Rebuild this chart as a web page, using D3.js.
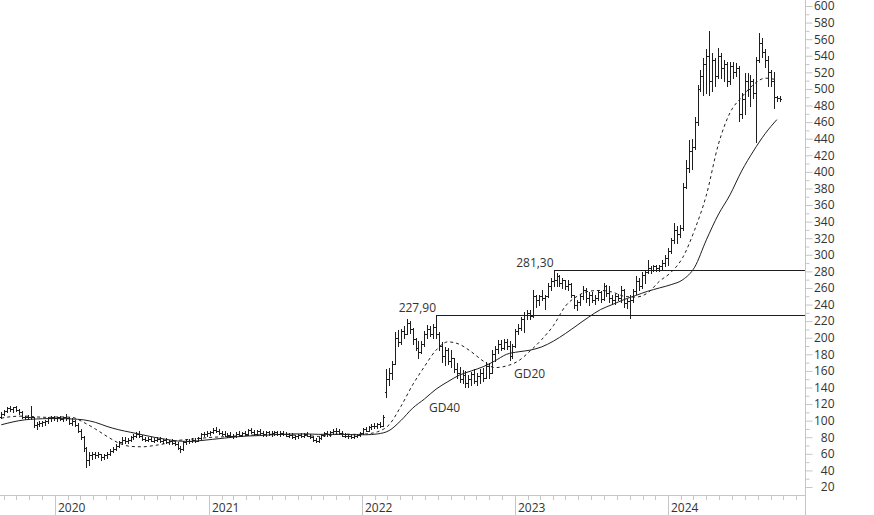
<!DOCTYPE html>
<html><head><meta charset="utf-8">
<script src="https://cdn.jsdelivr.net/npm/d3@7"></script>
<style>
html,body{margin:0;padding:0;background:#fff;}
svg{display:block;}
</style></head><body>
<svg id="chart" width="874" height="515"></svg>
<script>
// ---------- DATA (weekly OHLC, first week starts 2019-08-26) ----------
const firstWeek = "2019-08-26";
const opens = [105,108,112,115,114,116,113,110,104,104,
 105,104,95,96,97,98,100,103,104,103,
 104,102,104,103,97,99,95,88,80,67,
 52,58,60,58,60,56,58,60,64,66,
 70,74,77,75,77,80,82,84,81,78,
 77,78,76,77,78,75,77,74,75,73,
 72,67,66,74,75,76,77,76,79,84,
 84,85,86,89,88,85,84,82,83,81,
 82,84,83,85,84,89,86,84,88,85,
 84,86,84,85,86,84,85,84,82,83,
 80,81,83,82,84,82,80,77,75,79,
 83,85,84,86,88,87,85,82,81,82,
 80,82,83,85,90,88,92,94,93,96,
 94,135,150,158,168,200,195,208,205,218,
 210,198,188,183,193,205,210,205,213,205,
 190,178,185,172,175,162,158,150,155,146,
 150,156,148,154,158,152,166,158,180,186,
 192,188,195,190,178,190,208,212,222,228,
 230,226,250,245,250,248,250,262,268,270,
 275,266,270,262,265,252,240,243,250,258,
 248,252,246,248,255,247,262,254,248,246,
 250,248,258,242,244,246,256,268,262,276,
 279,284,282,286,284,286,290,296,305,318,
 330,325,332,382,405,425,430,460,500,515,
 530,540,510,535,515,540,525,530,510,528,
 520,525,470,488,510,500,510,495,535,555,
 545,535,520,510,490,489];
const highs = [110,113,117,118,117,118,114,112,106,107,
 118,104,98,99,100,101,104,106,106,105,
 106,105,108,104,103,101,97,90,82,68,
 62,62,62,62,60,60,62,66,68,72,
 76,80,80,79,82,84,86,87,83,80,
 80,80,79,80,80,78,79,77,78,76,
 74,70,75,77,78,79,79,80,85,86,
 87,88,91,92,90,88,87,85,86,84,
 86,87,86,88,90,91,89,89,90,88,
 87,88,87,88,88,87,88,86,85,85,
 83,84,85,85,86,84,82,79,80,84,
 86,87,87,90,91,90,87,85,84,84,
 83,84,86,91,92,93,96,97,97,98,
 107,162,163,172,207,209,211,214,223,220,
 212,200,196,196,208,215,214,216,227.9,207,
 195,189,188,185,176,170,165,161,160,155,
 159,162,158,162,163,171,170,185,190,197,
 197,198,199,196,193,211,216,225,231,233,
 234,257,252,252,257,252,266,272,281.3,278,
 276,272,270,270,266,252,245,253,262,260,
 255,255,251,258,256,266,264,262,251,253,
 253,262,259,247,252,259,274,272,279,282,
 294,286,288,288,288,294,300,308,320,338,
 335,336,386,414,438,440,466,505,523,537,
 548,570,543,537,549,543,535,533,533,533,
 531,528,495,519,519,517,512,539,567,561,
 548,540,523,521,492,491];
const lows = [103,107,110,112,111,112,108,103,102,102,
 102,92,90,93,94,95,97,100,101,100,
 101,100,101,96,95,93,86,78,64,44,
 46,54,55,56,53,54,55,58,62,65,
 68,72,73,73,76,78,80,80,77,75,
 75,75,74,75,74,73,73,72,72,71,
 66,62,65,72,73,74,74,75,78,82,
 82,83,85,86,84,83,81,80,80,79,
 80,82,81,83,83,85,83,83,84,82,
 82,83,82,83,83,82,83,81,80,79,
 78,79,80,80,81,79,76,74,74,78,
 81,82,82,84,85,84,81,80,79,79,
 79,80,82,84,87,87,90,91,91,92,
 93,128,143,150,168,190,192,200,204,206,
 192,185,175,182,190,200,202,200,200,185,
 171,167,168,165,159,152,147,145,141,141,
 143,145,143,146,148,151,151,157,172,181,
 185,186,187,173,175,189,204,209,207,222,
 223,225,237,240,246,235,249,258,262,262,
 262,260,259,258,249,236,233,239,247,243,
 239,243,241,245,243,246,250,243,241,241,
 245,243,237,236,224,243,253,258,260,266,
 278,278,280,280,280,282,286,288,302,314,
 314,322,330,380,400,404,428,456,497,493,
 495,493,497,503,513,513,509,503,506,513,
 515,461,465,470,491,479,489,436,533,539,
 527,503,503,477,486,485];
const closes = [108,112,115,114,116,113,110,104,104,105,
 104,95,96,97,98,100,103,104,103,104,
 102,104,103,97,99,95,88,80,67,52,
 58,60,58,60,56,58,60,64,66,70,
 74,77,75,77,80,82,84,81,78,77,
 78,76,77,78,75,77,74,75,73,72,
 67,66,74,75,76,77,76,79,84,84,
 85,86,89,88,85,84,82,83,81,82,
 84,83,85,84,89,86,84,88,85,84,
 86,84,85,86,84,85,84,82,83,80,
 81,83,82,84,82,80,77,75,79,83,
 85,84,86,88,87,85,82,81,82,80,
 82,83,85,90,88,92,94,93,96,94,
 104,150,158,168,200,195,208,205,218,210,
 198,188,183,193,205,210,205,213,205,190,
 178,185,172,175,162,158,150,155,146,150,
 156,148,154,158,152,166,158,180,186,192,
 188,195,190,178,190,208,212,222,228,230,
 226,250,245,250,248,250,262,268,270,275,
 266,270,262,265,252,240,243,250,258,248,
 252,246,248,255,247,262,254,248,246,250,
 248,258,242,244,246,256,268,262,276,279,
 284,282,286,284,286,290,296,305,318,330,
 325,332,382,405,425,430,460,500,515,530,
 540,510,535,515,540,525,530,510,528,520,
 525,470,488,510,500,510,495,535,555,545,
 535,520,510,490,489,488];

// moving averages, read every 4 weeks (week 0, 4, 8, ...)
const maStepWeeks = 4;
const gd20 = [103,105,105.5,104.5,104,104.5,104,98,90,81,
 73,69,68.5,70,72.5,76,77.5,78.8,80,80.6,
 81.5,82.3,83,83.5,83.5,82.5,82,81,82.5,84,
 83.5,84,86.5,95,117,143,165,185,195,192,
 183,172,164,166,172,184,198,215,238,250,
 256,257,255,250,249,254,268,279,297,330,
 372,432,471,490,505,513,511];
const gd40 = [95,98.5,101,102,102.5,102.5,102,101,98,93,
 89,86,83,80,77.5,75.5,75,76,77.5,79,
 80.5,81.5,82,83,83.5,84,84,83.5,83.5,83.5,
 83,83,84,88,100,115,126,138,147,155,
 160,165,172,180,183,185,189,196,205,215,
 225,234,240,246,251,256,260,264,270,285,
 318,348,372,401,425,446,463];

// horizontal levels
const levelValues = [227.9, 281.3];
const levelLabels = ["227,90", "281,30"];
const levelStartWeeks = [148, 188];

const maNames = ["GD20", "GD40"];
const yTicks = d3.range(20, 601, 20);
const yMinorTicks = d3.range(30, 600, 20);
const yearLabels = ["2020", "2021", "2022", "2023", "2024"];

// ---------- CHART ----------
const svg = d3.select("#chart");
const plotRight = 805, axisY = 495;
const FONT = '"Open Sans", "DejaVu Sans", sans-serif';
const AXIS_COL = "#c6c6c6", TEXT_COL = "#333", INK = "#1e1e1e";

const x = d3.scaleUtc()
  .domain([new Date(Date.UTC(2019,7,23)), new Date(Date.UTC(2024,10,22))])
  .range([0, plotRight]);
const y = d3.scaleLinear().domain([20, 600]).range([487, 6]);

const w0 = new Date(firstWeek + "T00:00:00Z");
const weekDate = i => d3.utcDay.offset(w0, 7 * i);

const bars = closes.map((c, i) => ({d: weekDate(i), o: opens[i], h: highs[i], l: lows[i], c}));

// OHLC bars
const gBars = svg.append("g").attr("fill", INK).attr("shape-rendering", "crispEdges");
const bg = gBars.selectAll("g").data(bars).join("g");
bg.append("rect")
  .attr("x", d => Math.round(x(d.d)))
  .attr("y", d => Math.round(y(d.h)))
  .attr("width", 1)
  .attr("height", d => Math.max(1, Math.round(y(d.l)) - Math.round(y(d.h)) + 1));
bg.append("rect")
  .attr("x", d => Math.round(x(d.d)) - 1)
  .attr("y", d => Math.round(y(d.o)))
  .attr("width", 1).attr("height", 1);
bg.append("rect")
  .attr("x", d => Math.round(x(d.d)) + 1)
  .attr("y", d => Math.round(y(d.c)))
  .attr("width", 1).attr("height", 1);

// moving averages
const maLine = d3.line()
  .x((v, k) => x(weekDate(k * maStepWeeks)))
  .y(v => y(v))
  .curve(d3.curveMonotoneX);
svg.append("path").datum(gd40).attr("d", maLine)
  .attr("fill", "none").attr("stroke", INK).attr("stroke-width", 1);
svg.append("path").datum(gd20).attr("d", maLine)
  .attr("fill", "none").attr("stroke", INK).attr("stroke-width", 1)
  .attr("stroke-dasharray", "3,3");

// horizontal level lines + labels
levelValues.forEach((v, i) => {
  const yy = Math.round(y(v)) + 0.5;
  const xs = x(weekDate(levelStartWeeks[i]));
  svg.append("line").attr("x1", Math.round(xs)).attr("x2", plotRight)
    .attr("y1", yy).attr("y2", yy).attr("stroke", INK).attr("stroke-width", 1);
  svg.append("text").attr("x", xs).attr("y", yy - 4)
    .attr("text-anchor", "end").attr("font-family", FONT).attr("font-size", 12)
    .attr("fill", TEXT_COL).text(levelLabels[i]);
});

// MA labels
svg.append("text").attr("x", 514).attr("y", 378).attr("font-family", FONT)
  .attr("font-size", 12).attr("fill", TEXT_COL).text(maNames[0]);
svg.append("text").attr("x", 429).attr("y", 412).attr("font-family", FONT)
  .attr("font-size", 12).attr("fill", TEXT_COL).text(maNames[1]);

// right axis
const gy = svg.append("g").attr("transform", `translate(${plotRight + 0.5},0)`);
gy.call(d3.axisRight(y).tickValues(yTicks).tickSize(7).tickFormat(d3.format("d")));
gy.select(".domain").remove();
gy.attr("font-family", FONT).attr("font-size", 12);
gy.selectAll(".tick line").attr("stroke", AXIS_COL);
gy.selectAll(".tick text").attr("x", 29).attr("text-anchor", "end").attr("fill", TEXT_COL);
const gyMinor = svg.append("g").attr("transform", `translate(${plotRight + 0.5},0)`);
gyMinor.call(d3.axisRight(y).tickValues(yMinorTicks).tickSize(4).tickFormat(""));
gyMinor.select(".domain").remove();
gyMinor.selectAll(".tick line").attr("stroke", AXIS_COL);

svg.append("line").attr("x1", plotRight + 0.5).attr("x2", plotRight + 0.5)
  .attr("y1", 0).attr("y2", 515).attr("stroke", AXIS_COL);

// bottom axis
svg.append("line").attr("x1", 0).attr("x2", plotRight).attr("y1", axisY + 0.5).attr("y2", axisY + 0.5)
  .attr("stroke", AXIS_COL);
const months = d3.utcMonth.range(x.domain()[0], x.domain()[1]);
svg.append("g").selectAll("line").data(months).join("line")
  .attr("x1", d => Math.round(x(d)) + 0.5).attr("x2", d => Math.round(x(d)) + 0.5)
  .attr("y1", axisY).attr("y2", d => d.getUTCMonth() === 0 ? 515 : axisY + 5)
  .attr("stroke", AXIS_COL);
svg.append("g").selectAll("text").data(yearLabels).join("text")
  .attr("x", d => Math.round(x(new Date(Date.UTC(+d, 0, 1)))) + 3)
  .attr("y", 512)
  .attr("font-family", FONT).attr("font-size", 12).attr("fill", TEXT_COL)
  .text(d => d);
</script>
</body></html>
